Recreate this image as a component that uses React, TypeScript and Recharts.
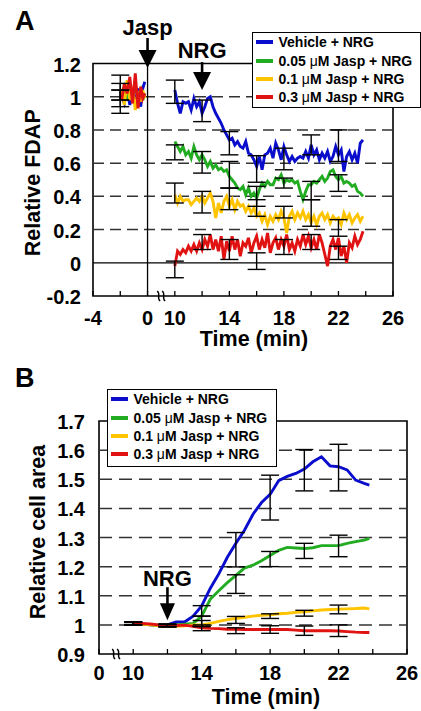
import {
  ErrorBar,
  Legend,
  Line,
  LineChart,
  ReferenceArea,
  ReferenceDot,
  ReferenceLine,
  XAxis,
  YAxis,
} from 'recharts';

const FONT = '"Liberation Sans", Arial, Helvetica, sans-serif';
const INK = '#000';

const seriesNames = ['Vehicle + NRG', '0.05 μM Jasp + NRG', '0.1 μM Jasp + NRG', '0.3 μM Jasp + NRG'];
const seriesColors = ['#0a0ecc', '#22ac22', '#ffc400', '#e11212'];

// ---------- panel A: relative FDAP ----------
const preMinutesA = [-1.9, -1.7, -1.5, -1.3, -1.1, -0.9, -0.7, -0.5, -0.35, -0.2];
const bluePreA = [1.0, 0.96, 1.05, 0.95, 1.02, 0.97, 1.05, 0.94, 1.05, 1.09];
const greenPreA = [1.02, 1.06, 0.98, 1.04, 0.99, 1.07, 1.0, 1.04, 0.98, 1.02];
const yellowPreA = [1.05, 0.95, 1.1, 0.98, 1.06, 0.92, 1.03, 0.97, 1.04, 0.99];
const redPreA = [0.98, 1.08, 1.02, 1.12, 0.96, 1.14, 0.93, 1.06, 0.99, 1.02];

const minutesA = [
  10, 10.2, 10.4, 10.6, 10.8, 11, 11.2, 11.4, 11.6, 11.8,
  12, 12.2, 12.4, 12.6, 12.8, 13, 13.2, 13.4, 13.6, 13.8,
  14, 14.2, 14.4, 14.6, 14.8, 15, 15.2, 15.4, 15.6, 15.8,
  16, 16.2, 16.4, 16.6, 16.8, 17, 17.2, 17.4, 17.6, 17.8,
  18, 18.2, 18.4, 18.6, 18.8, 19, 19.2, 19.4, 19.6, 19.8,
  20, 20.2, 20.4, 20.6, 20.8, 21, 21.2, 21.4, 21.6, 21.8,
  22, 22.2, 22.4, 22.6, 22.8, 23, 23.2, 23.4, 23.6, 23.8,
];
const blueA = [
  1.04, 0.96, 0.9, 0.97, 0.96, 0.97, 0.92, 0.99, 0.94, 0.97,
  0.9, 0.94, 0.99, 1.0, 0.94, 0.9, 0.87, 0.84, 0.8, 0.77,
  0.74, 0.75, 0.71, 0.73, 0.7, 0.69, 0.73, 0.66, 0.65, 0.62,
  0.58, 0.64, 0.56, 0.65, 0.66, 0.69, 0.63, 0.72, 0.68, 0.62,
  0.7, 0.65, 0.61, 0.64, 0.61, 0.63, 0.64, 0.63, 0.67, 0.63,
  0.71, 0.65, 0.68, 0.62, 0.66, 0.63, 0.67, 0.61, 0.64, 0.7,
  0.65, 0.68, 0.55, 0.64, 0.67, 0.62, 0.66, 0.6, 0.72, 0.74,
];
const greenA = [
  0.73, 0.7, 0.67, 0.7, 0.65, 0.67, 0.63, 0.7, 0.65, 0.62,
  0.65, 0.62, 0.58, 0.61, 0.57, 0.59, 0.56, 0.57, 0.55, 0.56,
  0.52, 0.5, 0.48, 0.45, 0.44, 0.46, 0.41, 0.45, 0.4, 0.42,
  0.39, 0.44, 0.48, 0.46, 0.49, 0.47, 0.47, 0.51, 0.5, 0.53,
  0.48, 0.5, 0.49, 0.5, 0.48, 0.49, 0.43, 0.38, 0.43, 0.47,
  0.47, 0.49, 0.48, 0.5, 0.52, 0.49, 0.51, 0.55, 0.56, 0.52,
  0.5, 0.52, 0.48, 0.49, 0.48, 0.46, 0.47, 0.43, 0.42, 0.4,
];
const yellowA = [
  0.41, 0.36, 0.4, 0.37, 0.38, 0.38, 0.35, 0.37, 0.39, 0.37,
  0.4, 0.36, 0.39, 0.42, 0.37, 0.27, 0.36, 0.3, 0.37, 0.4,
  0.34, 0.38, 0.32, 0.37, 0.34, 0.35, 0.31, 0.34, 0.3, 0.33,
  0.28, 0.3, 0.25, 0.29, 0.23, 0.28, 0.25, 0.29, 0.26, 0.31,
  0.27, 0.18, 0.28, 0.31, 0.26, 0.3, 0.27, 0.31, 0.26, 0.29,
  0.24, 0.28, 0.23, 0.28, 0.3, 0.26, 0.29, 0.24, 0.28, 0.26,
  0.27, 0.23, 0.3, 0.26, 0.29, 0.24, 0.27, 0.29, 0.25, 0.28,
];
const redA = [
  -0.02, 0.07, 0.05, 0.08, 0.06, 0.1, 0.07, 0.11, 0.07, 0.12,
  0.08, 0.14, 0.1, 0.17, 0.08, 0.14, 0.07, 0.16, 0.02, 0.13,
  0.07, 0.16, 0.08, 0.14, 0.04, 0.12, 0.1, 0.15, 0.06, 0.12,
  0.16, 0.08, 0.14, 0.09, 0.18, 0.06, 0.12, 0.15, 0.08, 0.14,
  0.1, 0.17, 0.08, 0.12, 0.07, 0.14, 0.1, 0.17, 0.11, 0.16,
  0.09, 0.14, 0.08, 0.17, 0.12, 0.05, -0.02, 0.1, 0.14, 0.08,
  0.15, 0.04, 0.1, 0.0, 0.12, 0.09, 0.16, 0.11, 0.14, 0.19,
];

const errMinutesA = [-2, 10, 12, 14, 16, 18, 20, 22];
const blueErrMidA = [1.01, 1.03, 0.915, 0.72, 0.565, 0.625, 0.71, 0.705];
const blueErrHalfA = [0.03, 0.07, 0.065, 0.07, 0.08, 0.065, 0.06, 0.095];
const greenErrMidA = [1.01, 0.665, 0.605, 0.53, 0.4, 0.48, 0.435, 0.48];
const greenErrHalfA = [0.07, 0.045, 0.065, 0.08, 0.06, 0.03, 0.055, 0.05];
const yellowErrMidA = [1.01, 0.42, 0.365, 0.385, 0.33, 0.305, 0.3, 0.21];
const yellowErrHalfA = [0.03, 0.06, 0.065, 0.065, 0.05, 0.035, 0.08, 0.05];
const redErrMidA = [1.015, -0.04, 0.125, 0.08, 0.01, 0.095, 0.125, 0.06];
const redErrHalfA = [0.115, 0.05, 0.045, 0.06, 0.05, 0.045, 0.045, 0.04];

const tickMinutesA = [-4, -2, 0, 10, 12, 14, 16, 18, 20, 22, 24, 26];
const labelMinutesA = [-4, 0, 10, 14, 18, 22, 26];
const yTicksA = [-0.2, 0, 0.2, 0.4, 0.6, 0.8, 1, 1.2];
const dashedA = [0.2, 0.4, 0.6, 0.8, 1];

// ---------- panel B: relative cell area ----------
const minutesB = [
  10, 10.5, 11, 11.5, 12, 12.5, 13, 13.5, 14, 14.5, 15, 15.5, 16, 16.5, 17,
  17.5, 18, 18.5, 19, 19.5, 20, 20.5, 21, 21.5, 22, 22.5, 23, 23.5, 23.8,
];
const blueB = [
  1.005, 1.003, 1.0, 0.998, 1.0, 1.01, 1.01, 1.03, 1.065, 1.125, 1.175, 1.232, 1.28, 1.325, 1.38,
  1.42, 1.448, 1.495, 1.51, 1.52, 1.535, 1.56, 1.577, 1.546, 1.543, 1.532, 1.497, 1.486, 1.48,
];
const greenB = [
  1.005, 1.003, 1.0, 0.998, 1.0, 1.0, 1.002, 1.005, 1.03, 1.088, 1.117, 1.145, 1.17, 1.195, 1.205,
  1.22, 1.238, 1.256, 1.266, 1.264, 1.262, 1.265, 1.272, 1.272, 1.272, 1.28, 1.286, 1.291, 1.297,
];
const yellowB = [
  1.005, 1.003, 1.0, 0.998, 0.995, 0.995, 0.997, 1.0, 1.0, 1.005, 1.012, 1.018, 1.022, 1.026, 1.03,
  1.033, 1.035, 1.038, 1.04, 1.043, 1.045, 1.048, 1.051, 1.053, 1.054, 1.055, 1.056, 1.058, 1.055,
];
const redB = [
  1.006, 1.005, 1.003, 1.0, 0.996, 0.998, 0.999, 0.995, 0.99, 0.988, 0.987, 0.985, 0.985, 0.984, 0.984,
  0.984, 0.984, 0.984, 0.984, 0.982, 0.98, 0.98, 0.98, 0.98, 0.979, 0.977, 0.975, 0.974, 0.974,
];

const errMinutesB = [10, 12, 14, 16, 18, 20, 22];
const blueErrMidB = [1.005, 0.998, 1.048, 1.258, 1.437, 1.531, 1.54];
const blueErrHalfB = [0.006, 0.005, 0.018, 0.059, 0.077, 0.071, 0.08];
const greenErrMidB = [1.005, 0.998, 1.012, 1.14, 1.226, 1.254, 1.271];
const greenErrHalfB = [0.005, 0.004, 0.018, 0.032, 0.026, 0.026, 0.037];
const yellowErrMidB = [1.005, 0.998, 1.005, 1.017, 1.03, 1.04, 1.053];
const yellowErrHalfB = [0.004, 0.004, 0.01, 0.012, 0.008, 0.01, 0.015];
const redErrMidB = [1.006, 0.997, 0.99, 0.98, 0.984, 0.98, 0.98];
const redErrHalfB = [0.005, 0.004, 0.01, 0.01, 0.013, 0.016, 0.02];

const tickMinutesB = [0, 10, 12, 14, 16, 18, 20, 22, 24, 26];
const labelMinutesB = [0, 10, 14, 18, 22, 26];
const yTicksB = [0.9, 1, 1.1, 1.2, 1.3, 1.4, 1.5, 1.6, 1.7];
const dashedB = [1, 1.1, 1.2, 1.3, 1.4, 1.5, 1.6];

// the time axis is broken: 0..10 min is squeezed into two units
const toAxis = (t: number) => (t >= 10 ? t - 8 : t);
const fromAxis = (d: number) => (d > 1 ? d + 8 : d);

type Row = { x: number; y: number | null; e?: number };

const rows = (times: number[], values: number[]): Row[] =>
  times.map((t, i) => ({ x: toAxis(t), y: values[i] }));
const errRows = (times: number[], mids: number[], halves: number[]): Row[] =>
  times.map((t, i) => ({ x: toAxis(t), y: mids[i], e: halves[i] }));

const linesA = [
  [...rows(preMinutesA, bluePreA), { x: 1, y: null }, ...rows(minutesA, blueA)],
  [...rows(preMinutesA, greenPreA), { x: 1, y: null }, ...rows(minutesA, greenA)],
  [...rows(preMinutesA, yellowPreA), { x: 1, y: null }, ...rows(minutesA, yellowA)],
  [...rows(preMinutesA, redPreA), { x: 1, y: null }, ...rows(minutesA, redA)],
];
const errorsA = [
  errRows(errMinutesA, blueErrMidA, blueErrHalfA),
  errRows(errMinutesA, greenErrMidA, greenErrHalfA),
  errRows(errMinutesA, yellowErrMidA, yellowErrHalfA),
  errRows(errMinutesA, redErrMidA, redErrHalfA),
];
const linesB = [
  rows(minutesB, blueB),
  rows(minutesB, greenB),
  rows(minutesB, yellowB),
  rows(minutesB, redB),
];
const errorsB = [
  errRows(errMinutesB, blueErrMidB, blueErrHalfB),
  errRows(errMinutesB, greenErrMidB, greenErrHalfB),
  errRows(errMinutesB, yellowErrMidB, yellowErrHalfB),
  errRows(errMinutesB, redErrMidB, redErrHalfB),
];

const textProps = { fontFamily: FONT, fontWeight: 700, fill: INK };

function timeTick(labels: number[], gap: number) {
  return (p: any) => {
    const minute = fromAxis(p.payload.value);
    return (
      <g>
        <line x1={p.x} x2={p.x} y1={p.y} y2={p.y - 5} stroke={INK} strokeWidth={1.3} />
        {labels.includes(minute) && (
          <text x={p.x} y={p.y + gap} textAnchor="middle" fontSize={20} {...textProps}>
            {minute}
          </text>
        )}
      </g>
    );
  };
}

function valueTick(gap: number) {
  return (p: any) => (
    <text x={p.x - gap} y={p.y} dy={8} textAnchor="end" fontSize={20} {...textProps}>
      {String(Math.round(p.payload.value * 10) / 10)}
    </text>
  );
}

function bottomTitle(text: string, dx: number, baseline: number) {
  return (p: any) => {
    const vb = p.viewBox || { x: 0, y: 0, width: 0, height: 0 };
    return (
      <text x={vb.x + vb.width / 2 + dx} y={vb.y + baseline} textAnchor="middle" fontSize={21.5} {...textProps}>
        {text}
      </text>
    );
  };
}

function sideTitle(text: string, cxPx: number, dy: number) {
  return (p: any) => {
    const vb = p.viewBox || { x: 0, y: 0, width: 0, height: 0 };
    const cx = vb.x + cxPx;
    const cy = vb.y + vb.height / 2 + dy;
    return (
      <text x={cx} y={cy} dy="0.36em" transform={`rotate(-90, ${cx}, ${cy})`} textAnchor="middle" fontSize={21.5} {...textProps}>
        {text}
      </text>
    );
  };
}

function arrowShape(label: string, head: number, headW: number, shaft: number, gap: number) {
  return (p: any) => {
    const { cx, cy } = p;
    return (
      <g>
        <text x={cx} y={cy - head - shaft - gap} textAnchor="middle" fontSize={22} {...textProps}>
          {label}
        </text>
        <line x1={cx} x2={cx} y1={cy - head - shaft} y2={cy - head + 1} stroke={INK} strokeWidth={2.6} />
        <polygon points={`${cx - headW / 2},${cy - head} ${cx + headW / 2},${cy - head} ${cx},${cy}`} fill={INK} />
      </g>
    );
  };
}

const breakShape = (p: any) => (
  <g stroke={INK} strokeWidth={1.4} fill="none">
    {[-2.5, 2.5].map((o) => (
      <path
        key={o}
        d={`M${p.cx + o - 1.5},${p.cy - 5} C${p.cx + o + 2.5},${p.cy - 2} ${p.cx + o - 2.5},${p.cy + 2} ${p.cx + o + 1.5},${p.cy + 5}`}
      />
    ))}
  </g>
);

function withMu(name: string) {
  const [a, b] = name.split('μ');
  if (b === undefined) return name;
  return (
    <>
      {a}
      <span style={{ fontWeight: 400 }}>μ</span>
      {b}
    </>
  );
}

const legendBox = () => (
  <div
    style={{
      width: '100%',
      height: '100%',
      boxSizing: 'border-box',
      border: '1.5px solid #000',
      background: '#fff',
      fontFamily: FONT,
      fontWeight: 700,
      fontSize: 14,
      color: INK,
    }}
  >
    {seriesNames.map((n, i) => (
      <div key={n} style={{ display: 'flex', alignItems: 'center', height: 18.4, lineHeight: '18px', whiteSpace: 'nowrap' }}>
        <span style={{ display: 'inline-block', width: 17, height: 4, marginLeft: 2.5, marginRight: 6, background: seriesColors[i] }} />
        <span>{withMu(n)}</span>
      </div>
    ))}
  </div>
);

function seriesLines(data: Row[][]) {
  return data.map((d, i) => (
    <Line
      key={`line-${i}`}
      data={d}
      dataKey="y"
      type="linear"
      stroke={seriesColors[i]}
      strokeWidth={2.9}
      dot={false}
      activeDot={false}
      connectNulls={false}
      isAnimationActive={false}
    />
  ));
}

function errorLines(data: Row[][]) {
  return data.map((d, i) => (
    <Line
      key={`err-${i}`}
      data={d}
      dataKey="y"
      stroke="none"
      dot={false}
      activeDot={false}
      legendType="none"
      isAnimationActive={false}
    >
      <ErrorBar dataKey="e" direction="y" width={9} stroke={INK} strokeWidth={1.4} isAnimationActive={false} />
    </Line>
  ));
}

function PanelA() {
  return (
    <LineChart width={421} height={360} margin={{ top: 63.5, right: 28, bottom: 0, left: 0 }}>
      <XAxis
        type="number"
        dataKey="x"
        domain={[-4, 18]}
        ticks={tickMinutesA.map(toAxis)}
        interval={0}
        allowDataOverflow
        axisLine={false}
        tickLine={false}
        tickSize={0}
        tickMargin={0}
        height={64}
        tick={timeTick(labelMinutesA, 29)}
        label={bottomTitle('Time (min)', 11, 50)}
      />
      <YAxis
        type="number"
        domain={[-0.2, 1.2]}
        ticks={yTicksA}
        interval={0}
        allowDataOverflow
        axisLine={false}
        tickLine={false}
        tickSize={0}
        tickMargin={0}
        width={93}
        tick={valueTick(12)}
        label={sideTitle('Relative FDAP', 32, 3)}
      />
      {dashedA.map((v) => (
        <ReferenceLine key={v} y={v} stroke="#333" strokeWidth={1.5} strokeDasharray="11 6" />
      ))}
      <ReferenceLine y={0} stroke={INK} strokeWidth={1.3} />
      <ReferenceLine x={toAxis(0)} stroke={INK} strokeWidth={1.3} />
      <ReferenceArea x1={-4} x2={18} y1={-0.2} y2={1.2} fill="none" stroke={INK} strokeWidth={1.6} />
      {seriesLines(linesA)}
      {errorLines(errorsA)}
      <ReferenceDot x={toAxis(0)} y={1.173} r={0} ifOverflow="visible" shape={arrowShape('Jasp', 18, 18, 12, 3)} />
      <ReferenceDot x={toAxis(12)} y={1.04} r={0} ifOverflow="visible" shape={arrowShape('NRG', 18, 18, 10, 4)} />
      <ReferenceDot x={1} y={-0.2} r={0} ifOverflow="visible" shape={breakShape} />
      <Legend
        layout="vertical"
        align="center"
        verticalAlign="middle"
        width={169}
        height={76}
        wrapperStyle={{ left: 252, top: 32, width: 169, height: 76 }}
        content={legendBox}
      />
    </LineChart>
  );
}

function PanelB() {
  return (
    <LineChart width={421} height={351} margin={{ top: 61, right: 14, bottom: 0, left: 0 }}>
      <XAxis
        type="number"
        dataKey="x"
        domain={[0, 18]}
        ticks={tickMinutesB.map(toAxis)}
        interval={0}
        allowDataOverflow
        axisLine={false}
        tickLine={false}
        tickSize={0}
        tickMargin={0}
        height={57}
        tick={timeTick(labelMinutesB, 26)}
        label={bottomTitle('Time (min)', 13, 50)}
      />
      <YAxis
        type="number"
        domain={[0.9, 1.7]}
        ticks={yTicksB}
        interval={0}
        allowDataOverflow
        axisLine={false}
        tickLine={false}
        tickSize={0}
        tickMargin={0}
        width={99}
        tick={valueTick(14)}
        label={sideTitle('Relative cell area', 37, -5.5)}
      />
      {dashedB.map((v) => (
        <ReferenceLine key={v} y={v} stroke="#333" strokeWidth={1.5} strokeDasharray="13 7" />
      ))}
      <ReferenceArea x1={0} x2={18} y1={0.9} y2={1.7} fill="none" stroke={INK} strokeWidth={1.6} />
      {seriesLines(linesB)}
      {errorLines(errorsB)}
      <ReferenceDot x={toAxis(12)} y={1.016} r={0} ifOverflow="visible" shape={arrowShape('NRG', 17, 15, 16, 1)} />
      <ReferenceDot x={1} y={0.9} r={0} ifOverflow="visible" shape={breakShape} />
      <Legend
        layout="vertical"
        align="center"
        verticalAlign="middle"
        width={170}
        height={78}
        wrapperStyle={{ left: 107, top: 29, width: 170, height: 78 }}
        content={legendBox}
      />
    </LineChart>
  );
}

export default function App() {
  return (
    <div style={{ position: 'absolute', left: 0, top: 0, width: 421, height: 711, background: '#fff', overflow: 'hidden' }}>
      <div style={{ position: 'absolute', left: 0, top: 0 }}>
        <PanelA />
      </div>
      <div style={{ position: 'absolute', left: 0, top: 360 }}>
        <PanelB />
      </div>
      <svg width={421} height={711} style={{ position: 'absolute', left: 0, top: 0, pointerEvents: 'none' }}>
        <text x={15} y={30} fontSize={27} {...textProps}>A</text>
        <text x={15} y={387} fontSize={27} {...textProps}>B</text>
      </svg>
    </div>
  );
}
